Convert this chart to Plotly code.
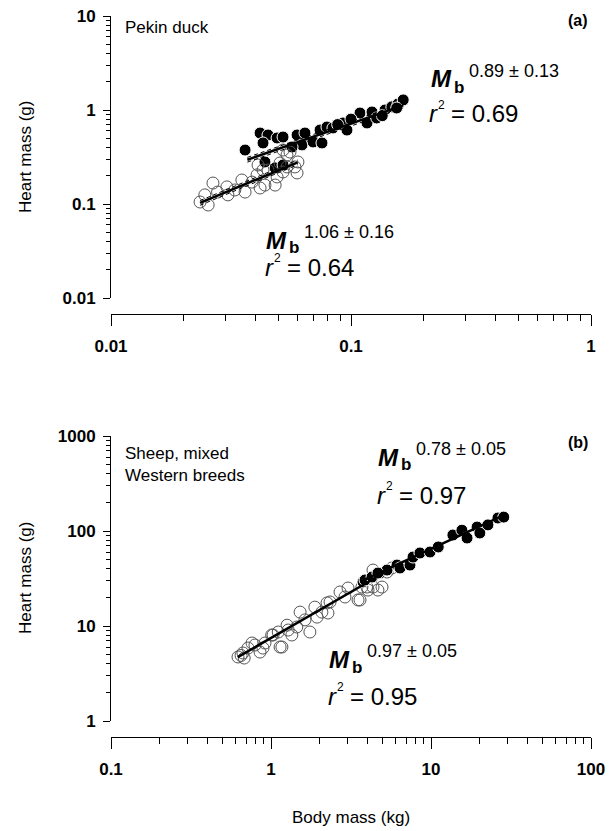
import numpy as np
import plotly.graph_objects as go

# ---------------- data ----------------
# Panel (a) Pekin duck, body mass (kg) vs heart mass (g)
duck_open_x = [0.0235, 0.0246, 0.0254, 0.0266, 0.0278, 0.0304, 0.0307, 0.0328, 0.0351, 0.0362,
               0.0387, 0.0406, 0.0418, 0.0438, 0.0451, 0.0483, 0.0492, 0.0521, 0.0541, 0.0584,
               0.0596, 0.0601, 0.0557, 0.0521, 0.0541, 0.0506, 0.0430, 0.0410]
duck_open_y = [0.105, 0.125, 0.0975, 0.167, 0.134, 0.152, 0.125, 0.141, 0.180, 0.134,
               0.171, 0.204, 0.148, 0.159, 0.230, 0.159, 0.194, 0.219, 0.248, 0.248,
               0.214, 0.280, 0.357, 0.375, 0.332, 0.273, 0.230, 0.260]
duck_fill_x = [0.0362, 0.0418, 0.0451, 0.0430, 0.0492, 0.0521, 0.0596, 0.0643, 0.0625, 0.0568,
               0.0438, 0.0483, 0.0521, 0.0695, 0.0743, 0.0757, 0.0794, 0.0841, 0.0926, 0.0962,
               0.109, 0.1166, 0.1223, 0.128, 0.1386, 0.148, 0.157, 0.165, 0.088, 0.100, 0.135, 0.155]
duck_fill_y = [0.375, 0.569, 0.542, 0.446, 0.504, 0.516, 0.542, 0.569, 0.425, 0.404,
               0.280, 0.242, 0.260, 0.457, 0.612, 0.446, 0.659, 0.644, 0.728, 0.612,
               0.929, 0.728, 0.953, 0.822, 1.00, 1.08, 1.16, 1.28, 0.70, 0.80, 0.87, 1.05]

# Panel (b) Sheep
sheep_open_x = [0.622, 0.668, 0.718, 0.761, 0.794, 0.854, 0.891, 0.917, 1.01, 1.03,
                1.11, 1.14, 1.17, 1.26, 1.28, 1.35, 1.45, 1.52, 1.63, 1.75,
                1.88, 1.94, 2.08, 2.27, 2.34, 2.24, 2.70, 2.90, 3.03, 3.50,
                3.70, 4.04, 4.66, 3.60, 3.98, 4.34, 4.94, 5.31, 5.70, 4.34, 0.65, 0.68]
sheep_open_y = [4.72, 5.20, 5.86, 6.62, 6.31, 5.32, 5.86, 6.62, 8.04, 8.04,
                8.64, 6.01, 6.01, 10.2, 9.07, 8.04, 9.76, 14.0, 11.6, 8.64,
                15.8, 12.4, 14.0, 13.7, 17.9, 17.5, 22.8, 20.2, 25.1, 18.8,
                25.7, 23.9, 23.9, 18.8, 25.7, 25.7, 25.7, 37.0, 40.8, 38.8, 4.9, 4.6]
sheep_fill_x = [3.76, 4.34, 4.80, 5.31, 6.13, 6.40, 7.39, 7.72, 8.53, 9.86,
                11.1, 13.7, 15.6, 16.8, 19.4, 20.2, 22.7, 26.2, 3.87, 4.28, 4.66, 28.5]
sheep_fill_y = [29.1, 32.8, 36.1, 38.8, 43.8, 40.8, 43.8, 53.2, 58.7, 60.1,
                67.9, 90.7, 102, 84.4, 110, 95.3, 116, 137, 30.5, 32.8, 36.1, 140]

# allometric fits: exponent (from labels), log10 intercept and x-extent
duck_open_fit = dict(b=1.06, loga=0.738, x0=0.0235, x1=0.060)
duck_fill_fit = dict(b=0.89, loga=0.745, x0=0.037, x1=0.165)
sheep_open_fit = dict(b=0.97, loga=0.874, x0=0.62, x1=5.3)
sheep_fill_fit = dict(b=0.78, loga=1.031, x0=3.7, x1=29.0)

duck_labels = ["Pekin duck", "(a)", "0.89 ± 0.13", "0.69", "1.06 ± 0.16", "0.64"]
sheep_labels = ["Sheep, mixed", "Western breeds", "(b)", "0.78 ± 0.05", "0.97", "0.97 ± 0.05", "0.95"]

ax_a_x_ticks = [0.01, 0.1, 1]
ax_a_y_ticks = [0.01, 0.1, 1, 10]
ax_b_x_ticks = [0.1, 1, 10, 100]
ax_b_y_ticks = [1, 10, 100, 1000]

# ---------------- layout helpers ----------------
W, H = 610, 831
FONT = "Liberation Sans, Arial, sans-serif"


def px(x):
    return x / W


def py(y):
    return 1 - y / H


def minor_vals(lo_exp, hi_exp):
    v = []
    for e in range(lo_exp, hi_exp):
        for m in range(2, 10):
            v.append(m * 10.0 ** e)
    return v


fig = go.Figure()

open_marker = dict(symbol="circle-open", size=12, color="#555555", line=dict(width=1, color="#555555"))
fill_marker = dict(symbol="circle", size=12, color="black", line=dict(width=1, color="white"))


def add_fit(fit, xa, ya, dashed=True):
    xs = np.logspace(np.log10(fit["x0"]), np.log10(fit["x1"]), 20)
    ys = 10 ** fit["loga"] * xs ** fit["b"]
    fig.add_trace(go.Scatter(x=xs, y=ys, mode="lines", line=dict(color="black", width=2.5),
                             xaxis=xa, yaxis=ya, showlegend=False, hoverinfo="skip"))
    if dashed:
        for off in (-0.025, 0.025):
            fig.add_trace(go.Scatter(x=xs, y=ys * 10 ** off, mode="lines",
                                     line=dict(color="black", width=1, dash="4px,3px"),
                                     xaxis=xa, yaxis=ya, showlegend=False, hoverinfo="skip"))


# panel a
fig.add_trace(go.Scatter(x=duck_fill_x, y=duck_fill_y, mode="markers", marker=fill_marker,
                         xaxis="x", yaxis="y", showlegend=False))
fig.add_trace(go.Scatter(x=duck_open_x, y=duck_open_y, mode="markers", marker=open_marker,
                         xaxis="x", yaxis="y", showlegend=False))
add_fit(duck_open_fit, "x", "y")
add_fit(duck_fill_fit, "x", "y")

# panel b
fig.add_trace(go.Scatter(x=sheep_open_x, y=sheep_open_y, mode="markers", marker=open_marker,
                         xaxis="x2", yaxis="y2", showlegend=False))
fig.add_trace(go.Scatter(x=sheep_fill_x, y=sheep_fill_y, mode="markers", marker=fill_marker,
                         xaxis="x2", yaxis="y2", showlegend=False))
add_fit(sheep_open_fit, "x2", "y2", dashed=False)
add_fit(sheep_fill_fit, "x2", "y2", dashed=False)

xdom = [px(111), px(591)]
tickfont = dict(family=FONT, size=17, color="black", weight="bold")


def xaxis_cfg(rng, ticks, minor, pos):
    return dict(type="log", range=rng, domain=xdom, anchor="free", position=pos, automargin=False,
                tickmode="array", tickvals=ticks, ticktext=[f"{t:g}" for t in ticks],
                ticks="outside", ticklen=11, tickwidth=1, tickcolor="black",
                showline=True, linecolor="black", linewidth=1, showgrid=False, zeroline=False,
                tickfont=tickfont, ticklabelstandoff=6,
                minor=dict(tickmode="array", tickvals=minor, ticks="outside", ticklen=6,
                           tickwidth=1, tickcolor="black", showgrid=False))


def yaxis_cfg(rng, ticks, minor, dom):
    return dict(type="log", range=rng, domain=dom, anchor="free", position=px(110), automargin=False,
                tickmode="array", tickvals=ticks, ticktext=[f"{t:g}" for t in ticks],
                ticks="outside", ticklen=7, tickwidth=1, tickcolor="black",
                showline=True, linecolor="black", linewidth=1, showgrid=False, zeroline=False,
                tickfont=tickfont, ticklabelstandoff=4,
                minor=dict(tickmode="array", tickvals=minor, ticks="outside", ticklen=4,
                           tickwidth=1, tickcolor="black", showgrid=False))


fig.update_layout(
    width=W, height=H, margin=dict(l=0, r=0, t=0, b=0, autoexpand=False),
    paper_bgcolor="white", plot_bgcolor="white",
    xaxis=xaxis_cfg([-2, 0], ax_a_x_ticks, minor_vals(-2, 0), py(314)),
    yaxis=yaxis_cfg([-2, 1], ax_a_y_ticks, minor_vals(-2, 1), [py(298), py(16)]),
    xaxis2=xaxis_cfg([-1, 2], ax_b_x_ticks, minor_vals(-1, 2), py(737)),
    yaxis2=yaxis_cfg([0, 3], ax_b_y_ticks, minor_vals(0, 3), [py(721), py(436)]),
)

ann = []


def text(x, y, s, size, xanchor="left", yanchor="middle", angle=0, weight="normal"):
    ann.append(dict(x=px(x), y=py(y), xref="paper", yref="paper", text=s, showarrow=False,
                    xanchor=xanchor, yanchor=yanchor, textangle=angle,
                    font=dict(family=FONT, size=size, color="black", weight=weight)))


def mb_label(x, y, sup):
    text(x, y, "<b><i>M</i></b>", 24)
    text(x + 23, y + 8, "<b>b</b>", 17)
    text(x + 38, y - 8, sup, 18)


def r2_label(x, y, val):
    text(x, y, "<i>r</i>", 24)
    text(x + 9, y - 9, "2", 12)
    text(x + 22, y, "= " + val, 24)


# panel a texts
text(123, 27, duck_labels[0], 17)
text(590, 20, duck_labels[1], 16, xanchor="right", weight="bold")
mb_label(429, 79, duck_labels[2])
r2_label(427, 114, duck_labels[3])
mb_label(264, 240, duck_labels[4])
r2_label(263, 267, duck_labels[5])

# panel b texts
text(123, 453, sheep_labels[0], 17)
text(123, 476, sheep_labels[1], 17)
text(590, 442, sheep_labels[2], 16, xanchor="right", weight="bold")
mb_label(376, 457, sheep_labels[3])
r2_label(375, 495, sheep_labels[4])
mb_label(327, 659, sheep_labels[5])
r2_label(326, 696, sheep_labels[6])

# axis titles
text(25, 157, "Heart mass (g)", 17, xanchor="center", angle=-90)
text(25, 578, "Heart mass (g)", 17, xanchor="center", angle=-90)
text(351, 817, "Body mass (kg)", 17, xanchor="center")

fig.update_layout(annotations=ann)
fig.write_html("out.html", post_script="document.body.style.margin='0';",
               config={"displayModeBar": False})
